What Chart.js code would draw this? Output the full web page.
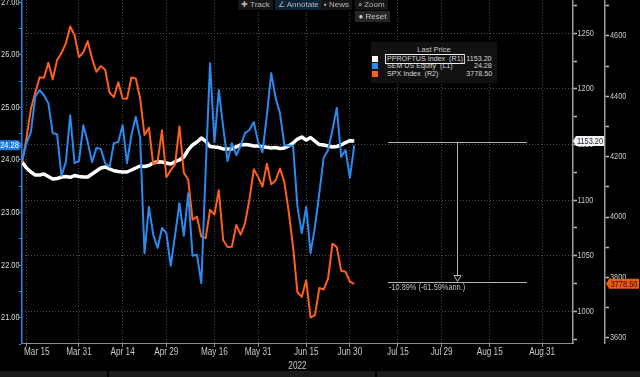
<!DOCTYPE html>
<html>
<head>
<meta charset="utf-8">
<script src="https://cdn.jsdelivr.net/npm/chart.js@4.4.1/dist/chart.umd.min.js"></script>
<style>
  html, body { margin: 0; padding: 0; background: #000; }
  #wrap { position: relative; width: 640px; height: 377px; overflow: hidden; background: #000;
          font-family: "Liberation Sans", Arial, sans-serif; color: #c0c0c0; }
  #chart { position: absolute; left: 0; top: 0; }
  .tb { position: absolute; top: 0; height: 10px; line-height: 10px; font-size: 8px; color: #b8b8b8;
        background: #161616; padding: 0 3px; white-space: nowrap; }
  .tb.on { background: #0d2436; }
  #reset { position: absolute; left: 355px; top: 11px; width: 35px; height: 11px; line-height: 11px;
           font-size: 8px; background: #262626; color: #c8c8c8; text-align: center; }
  #legend { position: absolute; left: 371px; top: 42px; width: 126px; height: 41px; background: #111;
            font-size: 7.5px; color: #d8d8d8; }
  #legend .hd { position: absolute; left: 0; width: 126px; top: 4px; line-height: 8px; text-align: center;
                color: #c8c8c8; }
  #legend .row { position: absolute; left: 0; width: 126px; height: 8px; line-height: 8px; }
  #legend .sq { position: absolute; left: 1px; top: 1px; width: 6px; height: 6px; }
  #legend .nm { position: absolute; left: 15px; top: 0; white-space: nowrap; padding: 0 1px;
                transform: scaleX(0.95); transform-origin: 0 50%; }
  #legend .nm.sel { outline: 1px solid #f0f0f0; }
  #legend .val { position: absolute; right: 5px; top: 0; transform: scaleX(0.95); transform-origin: 100% 50%; }
</style>
</head>
<body>
<div id="wrap">
  <canvas id="chart" width="640" height="377"></canvas>
  <div class="tb" style="left:238px;">&#10010; Track</div>
  <div class="tb on" style="left:275px;">&#8736; Annotate</div>
  <div class="tb" style="left:321px;">&#9642; News</div>
  <div class="tb" style="left:355px;">&#8981; Zoom</div>
  <div id="reset">&#9679; Reset</div>
  <div id="legend"></div>
</div>
<script>
const FONT = '"Liberation Sans", Arial, sans-serif';
const NARROW = 0.82; // Bloomberg terminal font is condensed

// trading sessions plotted (x axis is session based, future dates count weekdays)
const sessions = [
  '2022-03-14','2022-03-15','2022-03-16','2022-03-17','2022-03-18',
  '2022-03-21','2022-03-22','2022-03-23','2022-03-24','2022-03-25',
  '2022-03-28','2022-03-29','2022-03-30','2022-03-31','2022-04-01',
  '2022-04-04','2022-04-05','2022-04-06','2022-04-07','2022-04-08',
  '2022-04-11','2022-04-12','2022-04-13','2022-04-14',
  '2022-04-18','2022-04-19','2022-04-20','2022-04-21','2022-04-22',
  '2022-04-25','2022-04-26','2022-04-27','2022-04-28','2022-04-29',
  '2022-05-02','2022-05-03','2022-05-04','2022-05-05','2022-05-06',
  '2022-05-09','2022-05-10','2022-05-11','2022-05-12','2022-05-13',
  '2022-05-16','2022-05-17','2022-05-18','2022-05-19','2022-05-20',
  '2022-05-23','2022-05-24','2022-05-25','2022-05-26','2022-05-27',
  '2022-05-31','2022-06-01','2022-06-02','2022-06-03',
  '2022-06-06','2022-06-07','2022-06-08','2022-06-09','2022-06-10',
  '2022-06-13','2022-06-14','2022-06-15','2022-06-16','2022-06-17',
  '2022-06-21','2022-06-22','2022-06-23','2022-06-24',
  '2022-06-27','2022-06-28','2022-06-29','2022-06-30','2022-07-01'
];

// SEM US Equity (L1)
const semUs = [
  24.00, 24.32, 24.53, 25.20, 25.33, 25.23, 25.08, 24.51, 24.49, 23.70,
  23.96, 24.85, 23.94, 23.98, 24.66, 24.34, 23.96, 24.23, 24.21, 23.94,
  23.87, 24.32, 24.34, 24.66, 23.94, 24.47, 24.82, 24.42, 22.23, 23.11,
  22.58, 22.33, 22.71, 22.61, 21.99, 22.58, 23.18, 22.56, 23.37, 22.18,
  22.20, 21.66, 23.81, 25.84, 24.34, 25.33, 24.63, 23.98, 24.32, 24.09,
  24.27, 24.51, 24.57, 24.72, 24.34, 24.15, 24.85, 25.65, 25.18, 24.89,
  24.28, 24.27, 24.27, 23.11, 22.61, 23.11, 22.23, 22.73, 23.37, 24.04,
  24.19, 24.57, 24.99, 24.06, 24.19, 23.66, 24.28
];

// PPROFTUS Index (R1)
const pproftus = [
  1134.3, 1128.9, 1125.3, 1122.6, 1122.6, 1123.5, 1121.2, 1119.0, 1119.4, 1120.8,
  1121.2, 1120.5, 1122.1, 1121.2, 1120.8, 1120.8, 1123.5, 1126.2, 1128.9, 1129.8,
  1128.0, 1126.4, 1125.7, 1125.3, 1125.3, 1127.1, 1128.9, 1130.7, 1130.2, 1131.1,
  1133.4, 1134.5, 1134.3, 1133.4, 1132.5, 1134.5, 1136.1, 1138.8, 1145.1, 1149.6,
  1152.2, 1155.9, 1153.1, 1148.2, 1147.8, 1147.3, 1146.0, 1146.0, 1146.0, 1147.8,
  1149.6, 1150.0, 1149.6, 1148.7, 1148.7, 1148.0, 1147.5, 1146.9, 1147.3, 1146.4,
  1146.9, 1148.7, 1151.3, 1154.9, 1156.7, 1154.0, 1156.3, 1153.1, 1150.0, 1149.6,
  1148.7, 1147.8, 1148.2, 1149.6, 1151.8, 1153.4, 1153.2
];

// SPX Index (R2)
const spx = [
  4180.0, 4262.5, 4357.9, 4411.7, 4463.1, 4461.2, 4511.6, 4456.2, 4520.2, 4543.1,
  4575.5, 4631.6, 4602.5, 4530.4, 4545.9, 4582.6, 4525.1, 4481.2, 4500.2, 4488.3,
  4412.5, 4397.5, 4446.6, 4392.6, 4391.7, 4462.2, 4459.5, 4393.7, 4271.8, 4296.1,
  4175.2, 4184.0, 4287.5, 4131.9, 4155.4, 4175.5, 4300.2, 4146.9, 4123.3, 3991.2,
  4001.1, 3935.2, 3930.1, 4023.9, 4008.0, 4088.9, 3923.7, 3900.8, 3901.4, 3973.8,
  3941.5, 3978.7, 4057.8, 4158.2, 4132.2, 4101.2, 4176.8, 4108.5, 4121.4, 4160.7,
  4115.8, 4017.8, 3900.9, 3749.6, 3735.5, 3790.0, 3666.8, 3674.8, 3764.8, 3759.9,
  3795.7, 3911.7, 3900.1, 3821.6, 3818.8, 3785.4, 3778.5
];

const tickDates = ['2022-03-15','2022-03-31','2022-04-14','2022-04-29','2022-05-16','2022-05-31',
                   '2022-06-15','2022-06-30','2022-07-15','2022-07-29','2022-08-15','2022-08-31'];
const tickLabels = ['Mar 15','Mar 31','Apr 14','Apr 29','May 16','May 31',
                    'Jun 15','Jun 30','Jul 15','Jul 29','Aug 15','Aug 31'];
const yearLabel = ['2022', '2022-06-13'];

const l1Ticks = [20.5, 21, 21.5, 22, 22.5, 23, 23.5, 24, 24.5, 25, 25.5, 26, 26.5, 27];
const r1Ticks = [975, 1000, 1025, 1050, 1075, 1100, 1125, 1150, 1175, 1200, 1225, 1250, 1275];
const r2Ticks = [3600, 3700, 3800, 3900, 4000, 4100, 4200, 4300, 4400, 4500, 4600, 4700];

// measure annotation on R1
const annFrom = 1153.2;
const annPct = -10.89;
const annAnnualized = -61.59;
const annSpan = [83.7, 115.5];

const series = [
  { name: 'SEM US Equity', tag: '(L1)', data: semUs, color: '#2a8af0', width: 2, axis: 'y' },
  { name: 'SPX Index', tag: '(R2)', data: spx, color: '#ff5f1c', width: 2, axis: 'y2' },
  { name: 'PPROFTUS Index', tag: '(R1)', data: pproftus, color: '#ffffff', width: 3.5, axis: 'y1' }
];

function sessionIndex(d) {
  const k = sessions.indexOf(d);
  if (k >= 0) return k;
  const t = new Date(sessions[sessions.length - 1] + 'T00:00:00Z');
  const end = new Date(d + 'T00:00:00Z');
  let n = sessions.length - 1;
  while (t < end) {
    t.setUTCDate(t.getUTCDate() + 1);
    const w = t.getUTCDay();
    if (w !== 0 && w !== 6) n++;
  }
  return n;
}

const last = a => a[a.length - 1];

// legend (html)
const legend = document.getElementById('legend');
let lh = '<div class="hd">Last Price</div>';
const legendRows = [series[2], series[0], series[1]];
const legendVals = [last(pproftus).toFixed(2), last(semUs).toFixed(2), last(spx).toFixed(2)];
legendRows.forEach((s, i) => {
  lh += '<div class="row" style="top:' + (12.5 + i * 7.6) + 'px">' +
        '<div class="sq" style="background:' + s.color + '"></div>' +
        '<div class="nm' + (i === 0 ? ' sel' : '') + '">' + s.name + '&nbsp; ' + s.tag + '</div>' +
        '<div class="val">' + legendVals[i] + '</div></div>';
});
legend.innerHTML = lh;

// condensed text helper
function ntext(ctx, text, x, y, align, size, color) {
  ctx.save();
  ctx.font = size + 'px ' + FONT;
  ctx.fillStyle = color;
  ctx.textBaseline = 'middle';
  const w = ctx.measureText(text).width * NARROW;
  let x0 = x;
  if (align === 'center') x0 = x - w / 2;
  else if (align === 'right') x0 = x - w;
  ctx.translate(x0, y);
  ctx.scale(NARROW, 1);
  ctx.textAlign = 'left';
  ctx.fillText(text, 0, 0);
  ctx.restore();
  return w;
}

function tag(ctx, x, y, w, dir, fill, textColor, text) {
  ctx.save();
  ctx.fillStyle = fill;
  ctx.beginPath();
  if (dir > 0) { // pointer on the right side
    ctx.moveTo(x, y - 5); ctx.lineTo(x + w, y - 5); ctx.lineTo(x + w + 3, y);
    ctx.lineTo(x + w, y + 5); ctx.lineTo(x, y + 5);
  } else {
    ctx.moveTo(x + 3, y - 5); ctx.lineTo(x + 3 + w, y - 5); ctx.lineTo(x + 3 + w, y + 5);
    ctx.lineTo(x + 3, y + 5); ctx.lineTo(x, y);
  }
  ctx.closePath();
  ctx.fill();
  ctx.restore();
  ntext(ctx, text, dir > 0 ? x + w / 2 : x + 3 + w / 2, y + 0.5, 'center', 9, textColor);
}

const extras = {
  id: 'extras',
  beforeDraw(chart) {
    const ctx = chart.ctx;
    ctx.save();
    ctx.fillStyle = '#000';
    ctx.fillRect(0, 0, chart.width, chart.height);
    ctx.restore();
  },
  afterDraw(chart) {
    const ctx = chart.ctx;
    const xs = chart.scales.x, s1 = chart.scales.y1, s2 = chart.scales.y2, s0 = chart.scales.y;
    const area = chart.chartArea;

    // axis labels in condensed type, placed from the scales
    s0.ticks.forEach(t => {
      if (Number.isInteger(t.value)) ntext(ctx, t.value.toFixed(2), s0.right - 2.5, s0.getPixelForValue(t.value), 'right', 9, '#dedede');
    });
    s1.ticks.forEach(t => {
      if (t.value % 50 === 0) ntext(ctx, String(t.value), s1.left + 4.5, s1.getPixelForValue(t.value), 'left', 9, '#c8c8c8');
    });
    s2.ticks.forEach(t => {
      if (t.value % 200 === 0) ntext(ctx, String(t.value), s2.left + 5, s2.getPixelForValue(t.value), 'left', 9, '#c8c8c8');
    });
    xs.ticks.forEach((t, i) => {
      ctx.save();
      ctx.font = '10px ' + FONT;
      const w = ctx.measureText(tickLabels[i]).width * NARROW;
      ctx.restore();
      const cx = Math.max(xs.getPixelForValue(t.value), area.left + 2 + w / 2);
      ntext(ctx, tickLabels[i], cx, 352.5, 'center', 10, '#c8c8c8');
    });
    ntext(ctx, yearLabel[0], xs.getPixelForValue(sessionIndex(yearLabel[1])), 366, 'center', 10, '#c8c8c8');

    // measure annotation
    const xa = xs.getPixelForValue(annSpan[0]), xb = xs.getPixelForValue(annSpan[1]);
    const ya = Math.round(s1.getPixelForValue(annFrom)) + 1.5;
    const yb = Math.round(s1.getPixelForValue(annFrom * (1 + annPct / 100))) + 1.5;
    const xm = Math.round((xa + xb) / 2) + 0.5;
    ctx.save();
    ctx.strokeStyle = '#b4b4b4';
    ctx.lineWidth = 1;
    ctx.beginPath();
    ctx.moveTo(xa, ya); ctx.lineTo(xb, ya);
    ctx.moveTo(xa, yb); ctx.lineTo(xb, yb);
    ctx.moveTo(xm, ya); ctx.lineTo(xm, yb - 6);
    ctx.stroke();
    ctx.beginPath();
    ctx.moveTo(xm - 3.5, yb - 7); ctx.lineTo(xm + 3.5, yb - 7); ctx.lineTo(xm, yb - 1); ctx.closePath();
    ctx.stroke();
    ctx.restore();
    ntext(ctx, annPct.toFixed(2) + '% (' + annAnnualized.toFixed(2) + '%ann.)', xa + 1, yb + 5, 'left', 9, '#c0c0c0');

    // bottom strip
    ctx.save();
    ctx.fillStyle = '#1b1b1b';
    ctx.fillRect(0, 371, chart.width, 6);
    ctx.fillStyle = '#000';
    ctx.fillRect(107, 371, 2, 6);
    ctx.fillRect(375, 371, 2, 6);
    ctx.restore();

    // last value tags
    tag(ctx, 0, s0.getPixelForValue(last(semUs)), 19, 1, '#1d7fe6', '#ffffff', last(semUs).toFixed(2));
    tag(ctx, s1.left, s1.getPixelForValue(last(pproftus)), 28, -1, '#f4f4f4', '#20242c', last(pproftus).toFixed(2));
    tag(ctx, s2.left + 1, s2.getPixelForValue(last(spx)), 30, -1, '#f25a12', '#2a0c00', last(spx).toFixed(2));
  }
};

new Chart(document.getElementById('chart'), {
  type: 'line',
  data: {
    datasets: series.map(s => ({
      label: s.name,
      data: s.data.map((v, i) => ({ x: i, y: v })),
      borderColor: s.color,
      borderWidth: s.width,
      pointRadius: 0,
      tension: 0,
      borderJoinStyle: 'round',
      yAxisID: s.axis
    }))
  },
  options: {
    responsive: false,
    animation: false,
    layout: { padding: 0 },
    plugins: { legend: { display: false }, tooltip: { enabled: false } },
    scales: {
      x: {
        type: 'linear', min: -0.03, max: 126.05,
        afterBuildTicks: s => { s.ticks = tickDates.map(d => ({ value: sessionIndex(d) })); },
        afterFit: s => { s.height = 34; },
        ticks: { display: false },
        grid: { color: '#4c4c4c', lineWidth: 1, drawTicks: true, tickLength: 4, tickColor: '#8c8c8c' },
        border: { color: '#8c8c8c', width: 1, dash: [1, 2] }
      },
      y: {
        type: 'linear', position: 'left', min: 20.524, max: 27.039,
        afterBuildTicks: s => { s.ticks = l1Ticks.map(v => ({ value: v })); },
        afterFit: s => { s.width = 22; },
        ticks: { display: false },
        grid: { drawOnChartArea: false, drawTicks: true, tickLength: 3, color: '#2a86e8', tickColor: '#2a86e8' },
        border: { color: '#2a86e8', width: 1.5 }
      },
      y1: {
        type: 'linear', position: 'right', min: 971.5, max: 1279.95,
        afterBuildTicks: s => { s.ticks = r1Ticks.map(v => ({ value: v })); },
        afterFit: s => { s.width = 32; },
        ticks: { display: false },
        grid: { color: c => (c.tick && c.tick.value % 50 === 0) ? '#4c4c4c' : 'rgba(0,0,0,0)',
                drawTicks: true, tickLength: 4, tickColor: '#bdbdbd', tickWidth: 1.5 },
        border: { color: '#9c9c9c', width: 1.5, dash: [1, 2] }
      },
      y2: {
        type: 'linear', position: 'right', min: 3582.4, max: 4719.3,
        afterBuildTicks: s => { s.ticks = r2Ticks.map(v => ({ value: v })); },
        afterFit: s => { s.width = 35; },
        ticks: { display: false },
        grid: { drawOnChartArea: false, drawTicks: true, tickLength: 4, tickColor: '#bdbdbd', tickWidth: 1.5 },
        border: { color: '#9c9c9c', width: 1.5 }
      }
    }
  },
  plugins: [extras]
});
</script>
</body>
</html>
